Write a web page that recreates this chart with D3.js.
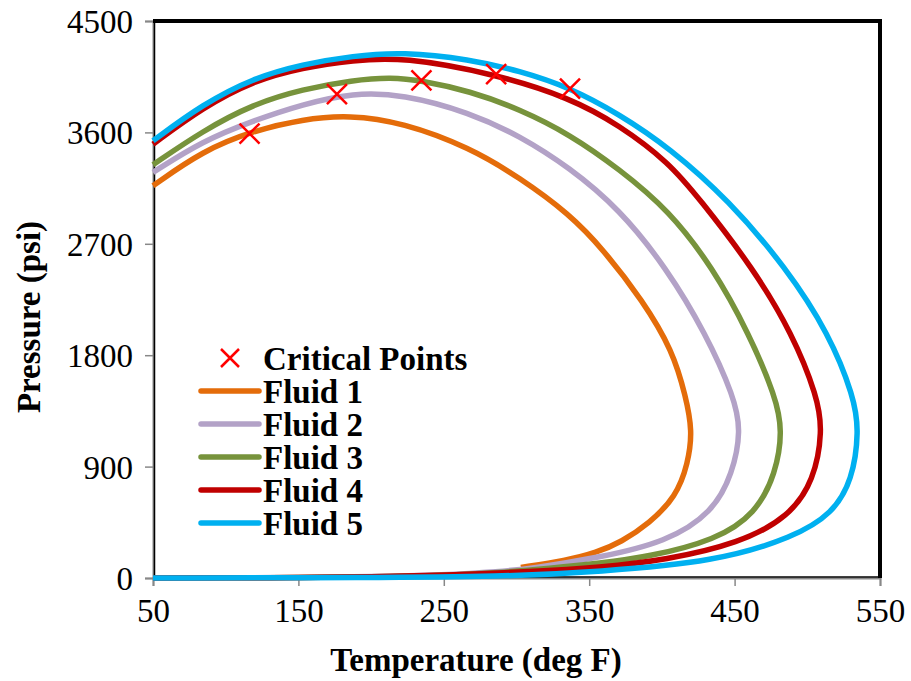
<!DOCTYPE html>
<html><head><meta charset="utf-8">
<script src="https://cdn.jsdelivr.net/npm/d3@7"></script>
<style>body{margin:0;background:#fff}svg{display:block}text{font-family:"Liberation Serif","Times New Roman",serif;fill:#000}</style>
</head><body><svg id="c" width="911" height="681"></svg>
<script>
const xTicks = [50,150,250,350,450,550];
const yTicks = [0,900,1800,2700,3600,4500];
const seriesNames = ["Fluid 1","Fluid 2","Fluid 3","Fluid 4","Fluid 5"];
const seriesColors = ["#E46C0A","#B3A2C7","#77933C","#C00000","#00B0F0"];

const fluid1T = [50,84.3,118.7,153,185,221.7,267.7,302,336.4,360,386.7,407.4,416.5,421,418,409.7,391.3,372,355,334,303];
const fluid1P = [3169,3452,3613,3707,3740,3680,3478,3236,2941,2650,2242,1839,1462,1190,925,656,441,290,205,140,86];

const fluid2T = [50,84.3,118.7,153,187.4,221.7,267.7,302,336.4,370.7,402.8,430.3,449.7,454.5,448.6,435,403,357,311,288,250,200,150,100,50];
const fluid2P = [3277,3532,3694,3828,3920,3909,3761,3573,3317,2981,2511,1973,1462,1190,844,530,290,165,78,51,25,10,4,1,0];

const fluid3T = [50,84.3,118.7,153,187.4,214,234.6,267.7,302,336.4,370.7,405,434.8,460,478.3,483,478.3,464.6,437,391.3,357,323,288,250,200,150,100,50];
const fluid3P = [3339,3613,3828,3949,4022,4046,4018,3935,3788,3586,3304,2968,2511,1973,1462,1190,844,521,306,172,118,78,42,20,8,3,1,0];

const fluid4T = [50,84.3,118.7,153,187.4,221.7,286,336.4,370.7,405,425.7,462.3,489.8,507,510.5,504.7,487.5,453.2,402.8,357,311,250,200,150,100,50];
const fluid4P = [3505,3801,4016,4124,4183,4210,4070,3880,3660,3355,3065,2511,1973,1462,1190,790,494,280,145,85,51,22,9,3,1,0];

const fluid5T = [50,84.3,118.7,153,187.4,221.7,267.7,302,336.8,370.7,405,446.3,485.1,515,532.1,535.6,531,517.3,491,437,357,288,200,50];
const fluid5P = [3532,3828,4038,4151,4218,4250,4191,4097,3962,3747,3478,3048,2511,1973,1462,1190,790,521,330,131,51,10,3,0];

const criticalT = [116.4,176.5,234.6,286,336.8];
const criticalP = [3591,3909,4020,4070,3954];

const fluidsT = [fluid1T,fluid2T,fluid3T,fluid4T,fluid5T];
const fluidsP = [fluid1P,fluid2P,fluid3P,fluid4P,fluid5P];

const svg = d3.select("#c");
const L=153, R=880, T=21, B=578;
const FS = "33px";
const x = d3.scaleLinear().domain([50,550]).range([L,R]);
const y = d3.scaleLinear().domain([0,4500]).range([B,T]);

// axes
const gx = svg.append("g").attr("transform",`translate(0,${B})`)
  .call(d3.axisBottom(x).tickValues(xTicks).tickSize(8).tickPadding(13).tickFormat(d3.format("d")));
const gy = svg.append("g").attr("transform",`translate(${L},0)`)
  .call(d3.axisLeft(y).tickValues(yTicks).tickSize(8).tickPadding(12).tickFormat(d3.format("d")));
[gx,gy].forEach(g=>{
  g.selectAll(".domain").attr("stroke","#888").attr("stroke-width",2);
  g.selectAll(".tick line").attr("stroke","#888").attr("stroke-width",1.5);
  g.selectAll(".tick text").style("font-family",'"Liberation Serif",serif').style("font-size",FS).attr("fill","#000");
});
gy.selectAll(".tick text").attr("dy","0.35em");

// frame
svg.append("line").attr("x1",L+1.5).attr("x2",L+1.5).attr("y1",T).attr("y2",B).attr("stroke","#000").attr("stroke-width",1.5);
svg.append("line").attr("x1",L).attr("x2",R).attr("y1",B-1).attr("y2",B-1).attr("stroke","#000").attr("stroke-width",1.5);
svg.append("path").attr("d",`M${L},${T}H${R}V${B}`).attr("fill","none").attr("stroke","#000").attr("stroke-width",4);

// curves
const line = d3.line().x(d=>x(d[0])).y(d=>y(d[1])).curve(d3.curveBasis);
fluidsT.forEach((ts,i)=>{
  const pts = ts.map((t,j)=>[t,fluidsP[i][j]]);
  svg.append("path").attr("d",line(pts)).attr("fill","none")
    .attr("stroke",seriesColors[i]).attr("stroke-width",5.5).attr("stroke-linecap","butt");
});

// critical points
const xs = 10;
criticalT.forEach((t,i)=>{
  const cx=x(t), cy=y(criticalP[i]);
  svg.append("path").attr("d",`M${cx-xs},${cy-xs}L${cx+xs},${cy+xs}M${cx-xs},${cy+xs}L${cx+xs},${cy-xs}`)
    .attr("stroke","#FF0000").attr("stroke-width",2.5).attr("fill","none");
});

// legend
const lg = svg.append("g");
const lx=201, lx2=259, tx=263, ly0=358, dy=33;
lg.append("path").attr("d",`M${230-9},${ly0-9}L${230+9},${ly0+9}M${230-9},${ly0+9}L${230+9},${ly0-9}`)
  .attr("stroke","#FF0000").attr("stroke-width",2.5);
lg.append("text").attr("x",tx).attr("y",ly0).attr("dy","0.35em").style("font-size",FS).style("font-weight","bold").text("Critical Points");
seriesNames.forEach((n,i)=>{
  const yy = ly0 + dy*(i+1);
  lg.append("line").attr("x1",lx).attr("x2",lx2).attr("y1",yy).attr("y2",yy)
    .attr("stroke",seriesColors[i]).attr("stroke-width",5.5).attr("stroke-linecap","round");
  lg.append("text").attr("x",tx).attr("y",yy).attr("dy","0.35em").style("font-size",FS).style("font-weight","bold").text(n);
});

// axis titles
svg.append("text").attr("x",476).attr("y",671).attr("text-anchor","middle")
  .style("font-size",FS).style("font-weight","bold").text("Temperature (deg F)");
svg.append("text").attr("transform",`translate(40,317) rotate(-90)`).attr("text-anchor","middle")
  .style("font-size",FS).style("font-weight","bold").text("Pressure (psi)");
</script></body></html>
